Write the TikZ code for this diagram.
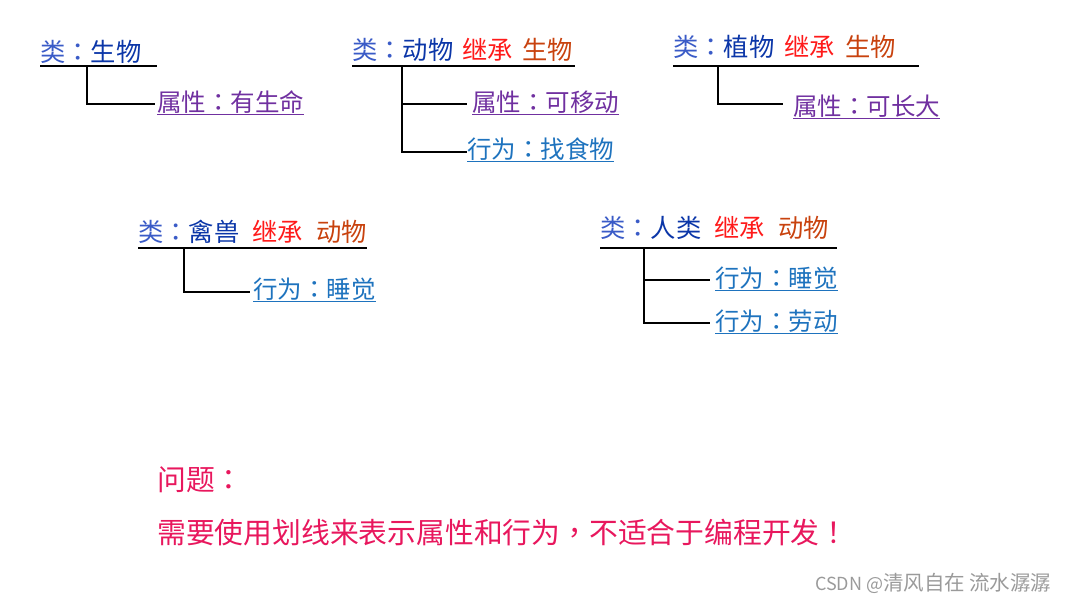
\documentclass[tikz,border=0pt]{standalone}
\usepackage{fontspec}
\setmainfont{Noto Sans CJK SC}
\newfontfamily\tcfont{Noto Sans CJK TC}
\definecolor{lblue}{HTML}{3A5BC7}
\definecolor{dblue}{HTML}{0B36A8}
\definecolor{inhred}{HTML}{FF1A1A}
\definecolor{parentc}{HTML}{C8420E}
\definecolor{attrpurple}{HTML}{7030A0}
\definecolor{actblue}{HTML}{1E73BE}
\definecolor{warnpink}{HTML}{E8175D}
\definecolor{wmgray}{HTML}{9A9A9A}
\newcommand\cc{{\tcfont ：}}
\newcommand\cls[1]{{\color{lblue}类\cc}{\color{dblue}#1}}
\newcommand\inh[2][9pt]{\hspace{#1}{\color{inhred}继承}\hspace{#1}{\color{parentc}#2}}
\begin{document}
\begin{tikzpicture}[x=1pt,y=-1pt,
  txt/.style={anchor=west,inner sep=0pt,font=\fontsize{24.5}{26}\selectfont,text height=21.3pt,text depth=2.7pt},
  lbl/.style={txt,font=\fontsize{25.3}{27}\selectfont},
  warn/.style={anchor=west,inner sep=0pt,font=\fontsize{28.8}{30}\selectfont,text=warnpink},
  conn/.style={draw=black,line width=1.2pt},
  ul/.style={line width=1.1pt}]
\useasboundingbox (0,0) rectangle (1068,603);

% ---------- group 1 ----------
\node[lbl] (c1) at (40,52.5) {\cls{生物}};
\coordinate (c1a) at (40,66); \coordinate (c1b) at (157,66);
\coordinate (c1v) at (87,66); \coordinate (c1e) at (155,104);
\draw[conn] (c1a) -- (c1b);
\node[txt,text=attrpurple] (p1) at (157,102) {属性\cc 有生命};
\draw[conn] (c1v) |- (c1e);
\draw[attrpurple,ul] (p1.south west) -- (p1.south east);

% ---------- group 2 ----------
\node[lbl] (c2) at (352,50) {\cls{动物}\inh{生物}};
\coordinate (c2a) at (352,66); \coordinate (c2b) at (575,66);
\coordinate (c2v) at (402,66); \coordinate (c2e1) at (467,104); \coordinate (c2e2) at (467,152);
\draw[conn] (c2a) -- (c2b);
\node[txt,text=attrpurple] (p2) at (472,102) {属性\cc 可移动};
\node[txt,text=actblue] (b2) at (467,149.5) {行为\cc 找食物};
\draw[conn] (c2v) |- (c2e2);
\draw[conn] (c2v |- c2e1) -- (c2e1);
\draw[attrpurple,ul] (p2.south west) -- (p2.south east);
\draw[actblue,ul] (b2.south west) -- (b2.south east);

% ---------- group 3 ----------
\node[lbl] (c3) at (673,47.5) {\cls{植物}\inh[10pt]{生物}};
\coordinate (c3a) at (673,66); \coordinate (c3b) at (919,66);
\coordinate (c3v) at (718,66); \coordinate (c3e) at (783,104);
\draw[conn] (c3a) -- (c3b);
\node[txt,text=attrpurple] (p3) at (793,106) {属性\cc 可长大};
\draw[conn] (c3v) |- (c3e);
\draw[attrpurple,ul] (p3.south west) -- (p3.south east);

% ---------- group 4 ----------
\node[lbl] (c4) at (138,232) {\cls{禽兽}\inh[13pt]{动物}};
\coordinate (c4a) at (138,248); \coordinate (c4b) at (367,248);
\coordinate (c4v) at (184,248); \coordinate (c4e) at (250,292);
\draw[conn] (c4a) -- (c4b);
\node[txt,text=actblue] (b4) at (253,289) {行为\cc 睡觉};
\draw[conn] (c4v) |- (c4e);
\draw[actblue,ul] (b4.south west) -- (b4.south east);

% ---------- group 5 ----------
\node[lbl] (c5) at (600,228) {\cls{人类}\inh[13pt]{动物}};
\coordinate (c5a) at (600,248); \coordinate (c5b) at (837,248);
\coordinate (c5v) at (644,248); \coordinate (c5e1) at (710,280); \coordinate (c5e2) at (710,323);
\draw[conn] (c5a) -- (c5b);
\node[txt,text=actblue] (b5a) at (715,278) {行为\cc 睡觉};
\node[txt,text=actblue] (b5b) at (715,321) {行为\cc 劳动};
\draw[conn] (c5v) |- (c5e2);
\draw[conn] (c5v |- c5e1) -- (c5e1);
\draw[actblue,ul] (b5a.south west) -- (b5a.south east);
\draw[actblue,ul] (b5b.south west) -- (b5b.south east);

% ---------- problem text ----------
\node[warn] (q) at (157,480) {问题\cc};
\node[warn] (qt) at (157,532.5) {需要使用划线来表示属性和行为{\tcfont ，}不适合于编程开发{\tcfont ！}};

% ---------- watermark ----------
\node[anchor=west,inner sep=0pt,font=\fontsize{18}{20}\selectfont,text=wmgray] (wm) at (815,583) {CSDN @{\fontsize{20.5}{22}\selectfont 清风自在\hspace{4pt}流水潺潺}};
\end{tikzpicture}
\end{document}
